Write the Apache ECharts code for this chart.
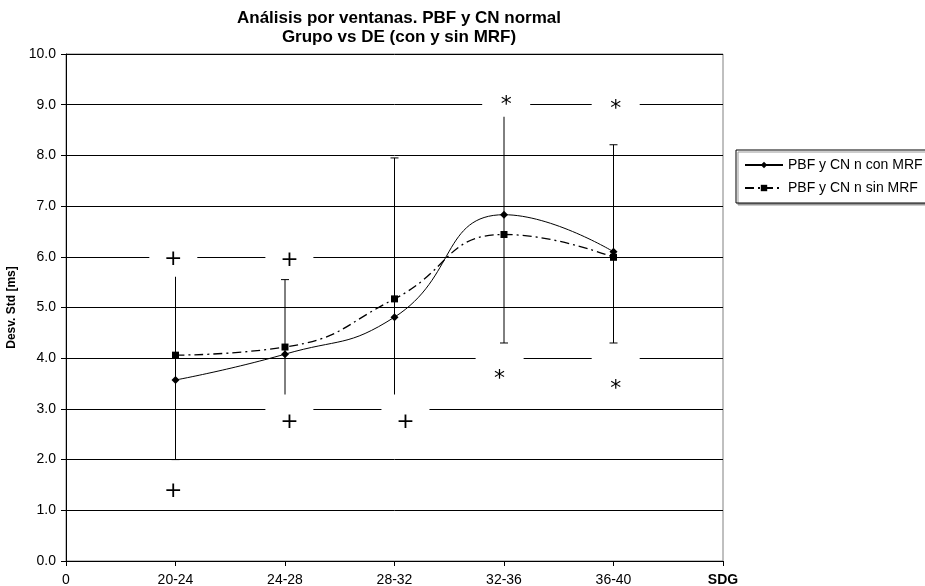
<!DOCTYPE html>
<html>
<head>
<meta charset="utf-8">
<script src="https://cdn.jsdelivr.net/npm/echarts@6/dist/echarts.min.js"></script>
<style>
    html, body { margin: 0; padding: 0; background: #fff; }
    #main { width: 925px; height: 586px; }
</style>
</head>
<body>
<div id="main"></div>
<script>
// categories on the x axis (positions 1..5), 0 and SDG at the ends
var categories = ['20-24', '24-28', '28-32', '32-36', '36-40'];
var conMRF = [3.57, 4.08, 4.81, 6.83, 6.10];
var sinMRF = [4.06, 4.22, 5.17, 6.44, 5.99];
// error bars (vertical ranges)
var errLow = [2.0, 3.25, 3.25, 4.30, 4.30];
var errHigh = [5.65, 5.55, 7.95, 8.80, 8.21];
// significance marks
var markX = [0.98, 0.98, 2.04, 2.04, 3.10, 4.02, 3.96, 5.02, 5.02];
var markY = [5.94, 1.36, 5.93, 2.73, 2.73, 9.10, 3.69, 9.02, 3.49];
var markText = ['+', '+', '+', '+', '+', '*', '*', '*', '*'];

var chart = echarts.init(document.getElementById('main'));

function toXY(arr) {
    return arr.map(function (v, i) { return [i + 1, v]; });
}

var errData = errLow.map(function (lo, i) { return [i + 1, lo, errHigh[i]]; });

var markData = markX.map(function (x, i) {
    return {
        value: [x, markY[i]],
        label: {
            formatter: markText[i],
            offset: markText[i] === '*' ? [0, 11] : [0, 5]
        }
    };
});

var option = {
    backgroundColor: '#fff',
    animation: false,
    textStyle: { fontFamily: 'Liberation Sans, Arial, sans-serif' },
    title: {
        text: 'Análisis por ventanas. PBF y CN normal\nGrupo vs DE (con y sin MRF)',
        left: 399,
        top: 9,
        padding: 0,
        textAlign: 'center',
        textStyle: { fontSize: 17, fontWeight: 'bold', color: '#000', lineHeight: 19 }
    },
    legend: {
        orient: 'vertical',
        left: 736,
        top: 150,
        padding: [8, 6, 8, 8],
        itemGap: 9,
        itemWidth: 38,
        itemHeight: 8,
        borderColor: '#000',
        borderWidth: 1,
        backgroundColor: '#fff',
        shadowColor: '#999',
        shadowOffsetX: 2,
        shadowOffsetY: 2,
        shadowBlur: 0,
        textStyle: { fontSize: 14, color: '#000' },
        data: ['PBF y CN n con MRF', 'PBF y CN n sin MRF']
    },
    grid: {
        left: 66,
        right: 202,
        top: 54,
        bottom: 25,
        show: true,
        borderColor: '#808080',
        borderWidth: 1,
        outerBoundsMode: 'none'
    },
    xAxis: {
        type: 'value',
        min: 0,
        max: 6,
        interval: 1,
        axisLine: { lineStyle: { color: '#000' } },
        axisTick: { show: true, length: 5, lineStyle: { color: '#000' } },
        splitLine: { show: false },
        axisLabel: {
            color: '#000',
            fontSize: 14,
            margin: 12,
            showMinLabel: true,
            showMaxLabel: true,
            formatter: function (v) {
                if (v === 0) return '0';
                if (v === 6) return '{b|SDG}';
                return categories[v - 1];
            },
            rich: { b: { fontWeight: 'bold', fontSize: 14, color: '#000' } }
        }
    },
    yAxis: {
        type: 'value',
        min: 0,
        max: 10,
        interval: 1,
        name: 'Desv. Std [ms]',
        nameLocation: 'middle',
        nameGap: 43,
        nameTextStyle: { fontSize: 12, fontWeight: 'bold', color: '#000' },
        axisLine: { show: true, lineStyle: { color: '#000' } },
        axisTick: { show: true, length: 5, lineStyle: { color: '#000' } },
        splitLine: { lineStyle: { color: '#000', width: 1 } },
        axisLabel: {
            color: '#000',
            fontSize: 14,
            margin: 10,
            formatter: function (v) { return v.toFixed(1); }
        }
    },
    series: [
        {
            type: 'custom',
            silent: true,
            z: 2,
            data: errData,
            renderItem: function (params, api) {
                var x = api.value(0);
                var lo = api.coord([x, api.value(1)]);
                var hi = api.coord([x, api.value(2)]);
                var w = 4;
                var st = { stroke: '#000', lineWidth: 1 };
                return {
                    type: 'group',
                    children: [
                        { type: 'line', shape: { x1: lo[0], y1: lo[1], x2: hi[0], y2: hi[1] }, style: st },
                        { type: 'line', shape: { x1: lo[0] - w, y1: lo[1], x2: lo[0] + w, y2: lo[1] }, style: st },
                        { type: 'line', shape: { x1: hi[0] - w, y1: hi[1], x2: hi[0] + w, y2: hi[1] }, style: st }
                    ]
                };
            }
        },
        {
            name: 'PBF y CN n con MRF',
            type: 'line',
            data: toXY(conMRF),
            smooth: 0.5,
            symbol: 'diamond',
            symbolSize: 8,
            z: 4,
            itemStyle: { color: '#000' },
            lineStyle: { color: '#000', width: 1 }
        },
        {
            name: 'PBF y CN n sin MRF',
            type: 'line',
            data: toXY(sinMRF),
            smooth: 0.5,
            symbol: 'rect',
            symbolSize: 7,
            z: 4,
            itemStyle: { color: '#000' },
            lineStyle: { color: '#000', width: 1.3, type: [9, 4, 2, 4] }
        },
        {
            type: 'scatter',
            silent: true,
            z: 6,
            data: markData,
            symbol: 'rect',
            symbolSize: [48, 45],
            symbolOffset: [0, -5.5],
            itemStyle: { color: '#fff', opacity: 1 },
            label: {
                show: true,
                position: 'inside',
                color: '#000',
                fontFamily: 'DejaVu Sans',
                fontSize: 22
            },
            emphasis: { disabled: true }
        }
    ]
};

chart.setOption(option);
</script>
</body>
</html>
